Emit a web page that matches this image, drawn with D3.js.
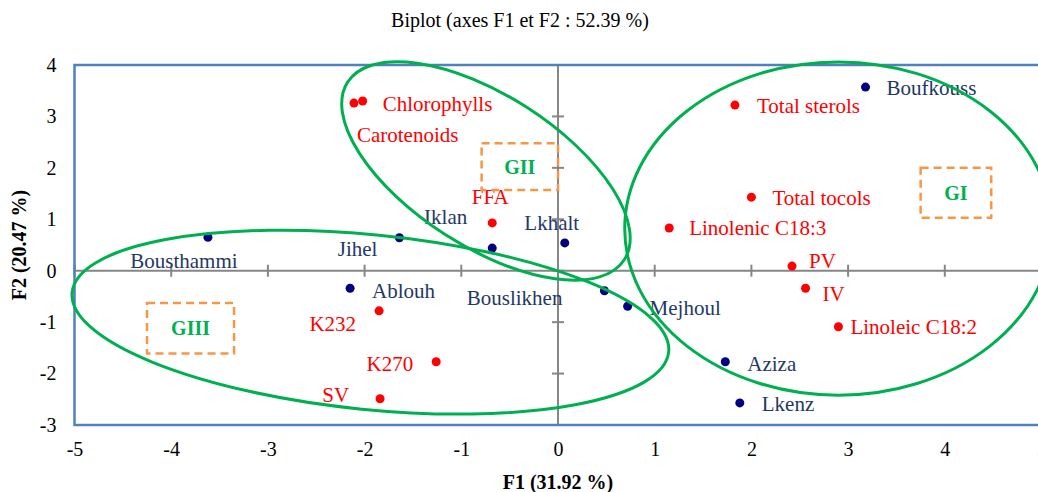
<!DOCTYPE html>
<html>
<head>
<meta charset="utf-8">
<script src="https://cdn.jsdelivr.net/npm/d3@7/dist/d3.min.js"></script>
<style>
  body { margin:0; background:#fff; }
  svg text { font-family:"Liberation Serif","Times New Roman",serif; }
</style>
</head>
<body>
<svg id="chart" width="1038" height="492"></svg>
<script>
// active variables (red) and observations (navy)
var varNames = ["Chlorophylls","Carotenoids","Total sterols","Total tocols","Linolenic C18:3","PV","IV","Linoleic C18:2","FFA","K232","K270","SV"];
var varF1 = [-2.02,-2.11,1.83,2.00,1.15,2.42,2.56,2.90,-0.68,-1.85,-1.26,-1.84];
var varF2 = [3.30,3.26,3.22,1.43,0.83,0.09,-0.34,-1.09,0.93,-0.78,-1.77,-2.49];

var obsNames = ["Boufkouss","Bousthammi","Jihel","Iklan","Lkhalt","Ablouh","Bouslikhen","Mejhoul","Aziza","Lkenz"];
var obsF1 = [3.18,-3.62,-1.64,-0.68,0.07,-2.15,0.48,0.72,1.73,1.88];
var obsF2 = [3.57,0.65,0.64,0.44,0.54,-0.34,-0.39,-0.69,-1.77,-2.57];

var xTicks = [-5,-4,-3,-2,-1,0,1,2,3,4,5];
var yTicks = [-3,-2,-1,0,1,2,3,4];

// groups: ellipse centre (F1,F2), half axes (F1 units, F2 units), tilt in degrees
var groupNames = ["GI","GII","GIII"];
var groupCF1 = [2.90,-0.745,-1.94];
var groupCF2 = [0.82,1.94,-1.00];
var groupRF1 = [2.21,1.70,3.10];
var groupRF2 = [3.24,1.47,1.70];
var groupTilt = [0,32.7,5.7];
// label boxes [F1 min, F1 max, F2 min, F2 max]
var groupBox = [[3.75,4.48,1.03,2.00],[-0.79,0,1.57,2.48],[-4.25,-3.35,-1.61,-0.63]];

var title = "Biplot (axes F1 et F2 : 52.39 %)";
var xTitle = "F1 (31.92 %)", yTitle = "F2 (20.47 %)";

// label placement beside each dot: [dx, dy, anchor]
var labelPlace = {
	"Chlorophylls":[20,3,"start"], "Carotenoids":[3,32,"start"], "Total sterols":[22,1,"start"],
	"Total tocols":[21,0,"start"], "Linolenic C18:3":[20,0,"start"], "PV":[17,-5,"start"],
	"IV":[17,5,"start"], "Linoleic C18:2":[12,0,"start"], "FFA":[-2,-26,"middle"],
	"K232":[-23,13,"end"], "K270":[-23,2,"end"], "SV":[-31,-4,"end"],
	"Boufkouss":[21,1,"start"], "Bousthammi":[-24,23,"middle"], "Jihel":[-22,11,"end"],
	"Iklan":[-25,-31,"end"], "Lkhalt":[-13,-20,"middle"], "Ablouh":[22,2,"start"],
	"Bouslikhen":[-42,7,"end"], "Mejhoul":[22,1,"start"], "Aziza":[22,2,"start"], "Lkenz":[22,1,"start"]
};

var Biplot = (function(){
	var svg = d3.select("#chart");
	var plotLeft = 74.5, plotTop = 65, plotBottom = 425, unit = 96.7;

	var x = d3.scaleLinear().domain([-5,5]).range([plotLeft, plotLeft+10*unit]);
	var y = d3.scaleLinear().domain([-3,4]).range([plotBottom, plotTop]);
	var kx = x(1)-x(0), ky = y(0)-y(1);

	var minus = function(d){ return d<0 ? "-"+Math.abs(d) : ""+d; };

	var drawLabels = function(names,f1,f2,color){
		svg.append("g").selectAll("text").data(names).enter().append("text")
			.each(function(d,i){
				var p = labelPlace[d];
				d3.select(this)
					.attr("x",x(f1[i])+p[0])
					.attr("y",y(f2[i])+p[1])
					.attr("dy","0.35em")
					.attr("text-anchor",p[2]);
			})
			.style("font-size","21px")
			.attr("fill",color)
			.text(function(d){return d;});
	};

	return {
		render : function(){
			svg.append("text")
				.attr("x",520).attr("y",27)
				.attr("text-anchor","middle")
				.style("font-size","20px").attr("fill","#000")
				.text(title);

			// gray cross axes
			svg.append("line")
				.attr("x1",x(-5)).attr("x2",x(5))
				.attr("y1",y(0)).attr("y2",y(0))
				.attr("stroke","#868686").attr("stroke-width",2);
			svg.append("line")
				.attr("x1",x(0)).attr("x2",x(0))
				.attr("y1",y(-3)).attr("y2",y(4))
				.attr("stroke","#868686").attr("stroke-width",2);
			svg.selectAll("line.xt").data(xTicks).enter().append("line")
				.attr("class","xt")
				.attr("x1",function(d){return x(d);}).attr("x2",function(d){return x(d);})
				.attr("y1",y(0)-6).attr("y2",y(0)+6)
				.attr("stroke","#868686").attr("stroke-width",2);
			svg.selectAll("line.yt").data(yTicks).enter().append("line")
				.attr("class","yt")
				.attr("y1",function(d){return y(d);}).attr("y2",function(d){return y(d);})
				.attr("x1",x(0)-6).attr("x2",x(0)+6)
				.attr("stroke","#868686").attr("stroke-width",2);

			// blue frame
			svg.append("rect")
				.attr("x",x(-5)).attr("y",y(4))
				.attr("width",x(5)-x(-5)).attr("height",y(-3)-y(4))
				.attr("fill","none").attr("stroke","#4F81BD").attr("stroke-width",2.5);

			// tick labels
			var gx = svg.append("g").attr("transform","translate(0,"+plotBottom+")")
				.call(d3.axisBottom(x).tickValues(xTicks).tickSize(0).tickPadding(17).tickFormat(minus));
			var gy = svg.append("g").attr("transform","translate("+plotLeft+",0)")
				.call(d3.axisLeft(y).tickValues(yTicks).tickSize(0).tickPadding(18).tickFormat(minus));
			[gx,gy].forEach(function(g){
				g.select(".domain").remove();
				g.selectAll("text")
					.style("font-size","20px")
					.style("font-family","'Liberation Serif','Times New Roman',serif")
					.attr("fill","#000");
			});

			svg.append("text")
				.attr("x",x(0)).attr("y",489)
				.attr("text-anchor","middle")
				.style("font-size","20px").style("font-weight","bold")
				.text(xTitle);
			svg.append("text")
				.attr("transform","translate(26,245) rotate(-90)")
				.attr("text-anchor","middle")
				.style("font-size","20px").style("font-weight","bold")
				.text(yTitle);

			// points
			svg.selectAll("circle.var").data(varNames).enter().append("circle")
				.attr("class","var")
				.attr("cx",function(d,i){return x(varF1[i]);})
				.attr("cy",function(d,i){return y(varF2[i]);})
				.attr("r",4.5).attr("fill","#FF0000");
			svg.selectAll("circle.obs").data(obsNames).enter().append("circle")
				.attr("class","obs")
				.attr("cx",function(d,i){return x(obsF1[i]);})
				.attr("cy",function(d,i){return y(obsF2[i]);})
				.attr("r",4.5).attr("fill","#000080");

			drawLabels(varNames,varF1,varF2,"#FF0000");
			drawLabels(obsNames,obsF1,obsF2,"#1F3864");

			// group boxes + labels
			svg.selectAll("rect.box").data(groupBox).enter().append("rect")
				.attr("class","box")
				.attr("x",function(d){return x(d[0]);})
				.attr("y",function(d){return y(d[3]);})
				.attr("width",function(d){return x(d[1])-x(d[0]);})
				.attr("height",function(d){return y(d[2])-y(d[3]);})
				.attr("fill","none").attr("stroke","#F79646")
				.attr("stroke-width",2.5).attr("stroke-dasharray","8,5");
			svg.selectAll("text.grp").data(groupNames).enter().append("text")
				.attr("class","grp")
				.attr("x",function(d,i){return x((groupBox[i][0]+groupBox[i][1])/2);})
				.attr("y",function(d,i){return y((groupBox[i][2]+groupBox[i][3])/2);})
				.attr("dy","0.35em")
				.attr("text-anchor","middle")
				.style("font-size","20px").style("font-weight","bold")
				.attr("fill","#00B050")
				.text(function(d){return d;});

			// group ellipses, drawn over everything
			svg.selectAll("ellipse.grp").data(groupNames).enter().append("ellipse")
				.attr("class","grp")
				.attr("cx",function(d,i){return x(groupCF1[i]);})
				.attr("cy",function(d,i){return y(groupCF2[i]);})
				.attr("rx",function(d,i){return groupRF1[i]*kx;})
				.attr("ry",function(d,i){return groupRF2[i]*ky;})
				.attr("transform",function(d,i){return "rotate("+groupTilt[i]+","+x(groupCF1[i])+","+y(groupCF2[i])+")";})
				.attr("fill","none").attr("stroke","#00B050").attr("stroke-width",3);
		}
	};
})();

Biplot.render();
</script>
</body>
</html>
